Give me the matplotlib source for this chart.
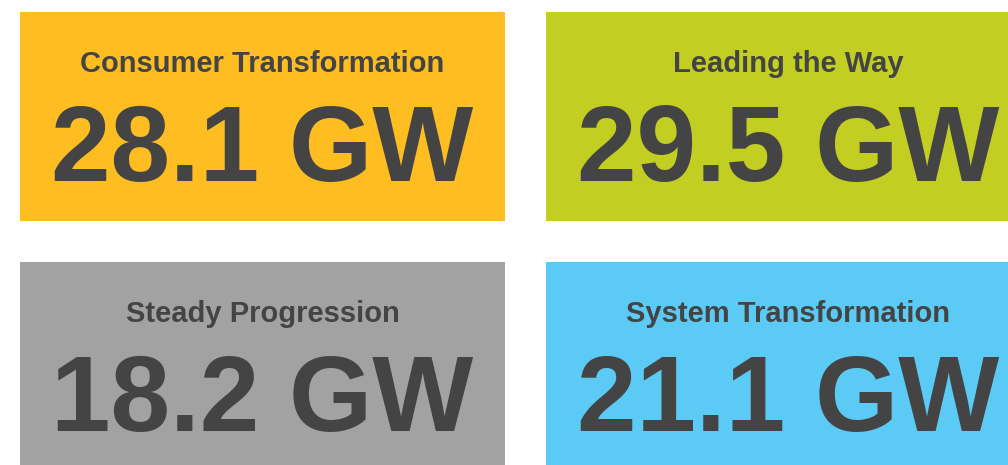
import matplotlib
matplotlib.use("Agg")
import matplotlib.pyplot as plt
from matplotlib.patches import Rectangle

scenarios = ["Consumer Transformation", "Leading the Way", "Steady Progression", "System Transformation"]
values = [28.1, 29.5, 18.2, 21.1]
unit = "GW"
colors = ["#FEBE22", "#C2CF22", "#A2A2A2", "#5BCBF5"]
text_color = "#444444"

W, H = 1008, 465
fig = plt.figure(figsize=(W / 100, H / 100), dpi=100)
ax = fig.add_axes([0, 0, 1, 1])
ax.set_xlim(0, W)
ax.set_ylim(H, 0)
ax.axis("off")

tile_w, tile_h = 485, 209
lefts = [20, 546]
tops = [12, 262]

for i, (name, val, col) in enumerate(zip(scenarios, values, colors)):
    x0 = lefts[i % 2]
    y0 = tops[i // 2]
    ax.add_patch(Rectangle((x0, y0), tile_w, tile_h, facecolor=col, edgecolor="none"))
    cx = x0 + tile_w / 2
    ax.text(cx, y0 + 60, name, ha="center", va="baseline", fontsize=21,
            fontweight="bold", color=text_color, family="Liberation Sans")
    ax.text(cx, y0 + 169, f"{val:.1f} {unit}", ha="center", va="baseline", fontsize=77,
            fontweight="bold", color=text_color, family="Liberation Sans")

fig.savefig("out.png", dpi=100)
